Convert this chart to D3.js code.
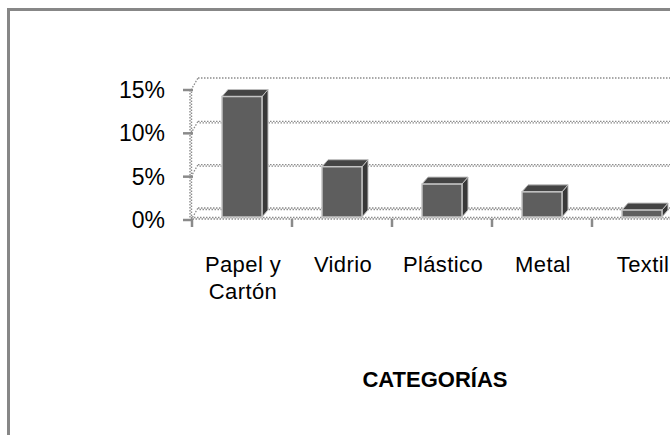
<!DOCTYPE html>
<html lang="es">
<head>
    <meta charset="UTF-8">
    <script src="https://d3js.org/d3.v7.min.js"></script>
    <title>Categorías</title>
    <style>
        body { margin: 0; background: #fff; }
        text { font-family: "Liberation Sans", Arial, sans-serif; fill: #000; }
    </style>
</head>
<body>
    <svg width="670" height="435"></svg>
    <script>
        var categories = ["Papel y|Cartón", "Vidrio", "Plástico", "Metal", "Textil"];
        var values = [13.9, 5.8, 3.8, 2.9, 0.8];
        var yTicks = [0, 5, 10, 15];

        var svg = d3.select("svg");
        var dx = 7, dy = -12;        // depth of the back wall
        var bdx = 6, bdy = -7;       // depth of each bar
        var gridColor = "#8c8c8c";

        var x = d3.scaleBand().domain(categories).range([192, 692])
            .paddingInner(0.6).paddingOuter(0.3);
        var y = d3.scaleLinear().domain([0, 15]).range([220, 90]);

        // chart area border (cut off at right and bottom)
        svg.append("rect").attr("x", 8.5).attr("y", 9.5)
            .attr("width", 900).attr("height", 900)
            .attr("fill", "none").attr("stroke", "#878787").attr("stroke-width", 3);

        function wavy(g, x1, y1, x2, y2) {
            g.append("line").attr("x1", x1).attr("y1", y1).attr("x2", x2).attr("y2", y2)
                .attr("stroke", gridColor).attr("stroke-width", 1.4).attr("stroke-dasharray", "1.5 1.5");
            g.append("line").attr("x1", x1).attr("y1", y1 + 1.5).attr("x2", x2).attr("y2", y2 + 1.5)
                .attr("stroke", gridColor).attr("stroke-width", 1.4).attr("stroke-dasharray", "1.5 1.5")
                .attr("stroke-dashoffset", 1.5);
        }

        var grid = svg.append("g");
        yTicks.forEach(function (t) {
            var yy = y(t) + dy;
            if (t === 15) {
                grid.append("line").attr("x1", 191 + dx).attr("y1", yy).attr("x2", 700).attr("y2", yy)
                    .attr("stroke", gridColor).attr("stroke-width", 1.5).attr("stroke-dasharray", "1.5 1.5");
            } else {
                wavy(grid, 191 + dx, yy, 700, yy);
            }
            // slant on the left wall
            grid.append("line").attr("x1", 191).attr("y1", y(t)).attr("x2", 191 + dx).attr("y2", yy)
                .attr("stroke", gridColor).attr("stroke-width", 1.3).attr("stroke-dasharray", "1.5 1.5");
        });
        // front floor edge and vertical axis
        wavy(grid, 191, y(0) - 2.5, 700, y(0) - 2.5);
        grid.append("line").attr("x1", 190).attr("y1", y(15)).attr("x2", 190).attr("y2", y(0))
            .attr("stroke", gridColor).attr("stroke-width", 1.4).attr("stroke-dasharray", "1.5 1.5");
        grid.append("line").attr("x1", 191.5).attr("y1", y(15)).attr("x2", 191.5).attr("y2", y(0))
            .attr("stroke", gridColor).attr("stroke-width", 1.4).attr("stroke-dasharray", "1.5 1.5")
            .attr("stroke-dashoffset", 1.5);

        // y ticks and labels
        var yAxis = svg.append("g");
        yTicks.forEach(function (t) {
            yAxis.append("line").attr("x1", 183).attr("x2", 193).attr("y1", y(t)).attr("y2", y(t))
                .attr("stroke", "#8a8a8a").attr("stroke-width", 2.5);
            yAxis.append("text").attr("x", 165).attr("y", y(t)).attr("dy", "0.35em")
                .attr("text-anchor", "end").attr("font-size", 23).text(t + "%");
        });

        // x ticks at band boundaries
        var step = x.step();
        d3.range(categories.length).forEach(function (i) {
            var xx = 192 + i * step;
            svg.append("line").attr("x1", xx).attr("x2", xx).attr("y1", 219).attr("y2", 227)
                .attr("stroke", "#8a8a8a").attr("stroke-width", 2.5);
        });

        // bars
        var bars = svg.append("g").selectAll("g").data(categories).enter().append("g");
        var base = y(0) - 3;
        bars.each(function (c, i) {
            var g = d3.select(this);
            var x0 = x(c), w = x.bandwidth();
            var top = y(values[i]) - 3;
            // right side
            g.append("path")
                .attr("d", "M" + (x0 + w) + "," + top + "L" + (x0 + w + bdx) + "," + (top + bdy) +
                    "L" + (x0 + w + bdx) + "," + (base + bdy) + "L" + (x0 + w) + "," + base + "Z")
                .attr("fill", "#383838").attr("stroke", "#bdbdbd").attr("stroke-width", 1);
            // top
            g.append("path")
                .attr("d", "M" + x0 + "," + top + "L" + (x0 + bdx) + "," + (top + bdy) +
                    "L" + (x0 + w + bdx) + "," + (top + bdy) + "L" + (x0 + w) + "," + top + "Z")
                .attr("fill", "#444").attr("stroke", "#bdbdbd").attr("stroke-width", 1);
            // front
            g.append("rect").attr("x", x0).attr("y", top).attr("width", w).attr("height", base - top)
                .attr("fill", "#5e5e5e").attr("stroke", "#c4c4c4").attr("stroke-width", 1.5);
        });

        // category labels
        var labels = svg.append("g");
        categories.forEach(function (c) {
            var t = labels.append("text").attr("x", x(c) + x.bandwidth() / 2 + 1).attr("y", 272)
                .attr("text-anchor", "middle").attr("font-size", 22).attr("letter-spacing", 0.4);
            c.split("|").forEach(function (part, j) {
                t.append("tspan").attr("x", x(c) + x.bandwidth() / 2 + 1).attr("dy", j ? 27 : 0).text(part);
            });
        });

        svg.append("text").attr("x", 435).attr("y", 387).attr("text-anchor", "middle")
            .attr("font-size", 22).attr("font-weight", "bold").text("CATEGORÍAS");
    </script>
</body>
</html>
